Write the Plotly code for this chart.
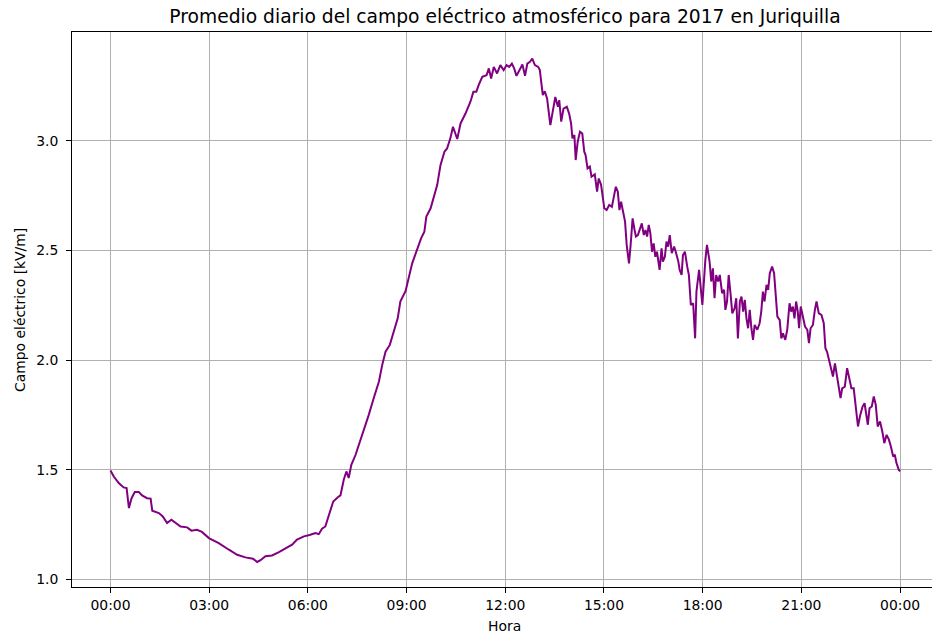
import plotly.graph_objects as go

# Hour of day (decimal hours) and mean atmospheric electric field [kV/m]
hora = [
    0.00, 0.10, 0.25, 0.40, 0.49, 0.56, 0.64, 0.74, 0.86, 0.96, 1.11, 1.22, 1.27, 1.47, 1.59, 1.72,
    1.85, 1.98, 2.13, 2.33, 2.46, 2.63, 2.78, 2.99, 3.29, 3.60, 3.85, 4.10, 4.33, 4.46, 4.56, 4.71,
    4.91, 5.12, 5.37, 5.52, 5.67, 5.88, 6.05, 6.23, 6.33, 6.43, 6.53, 6.64, 6.77, 6.91, 6.99, 7.09,
    7.17, 7.24, 7.32, 7.45, 7.55, 7.65, 7.75, 7.85, 8.00, 8.16, 8.26, 8.36, 8.49, 8.61, 8.73, 8.81,
    8.97, 9.17, 9.32, 9.44, 9.54, 9.60, 9.73, 9.83, 9.93, 10.03, 10.15, 10.23, 10.33, 10.41, 10.54,
    10.64, 10.79, 10.94, 11.03, 11.12, 11.19, 11.30, 11.43, 11.50, 11.57, 11.65, 11.75, 11.85, 11.95,
    12.04, 12.12, 12.20, 12.27, 12.34, 12.42, 12.52, 12.60, 12.67, 12.75, 12.82, 12.90, 13.00, 13.05,
    13.10, 13.14, 13.20, 13.27, 13.37, 13.44, 13.52, 13.60, 13.64, 13.70, 13.77, 13.87, 13.94, 14.00,
    14.04, 14.10, 14.14, 14.20, 14.27, 14.34, 14.40, 14.44, 14.50, 14.57, 14.62, 14.72, 14.79, 14.84,
    14.91, 15.01, 15.08, 15.16, 15.24, 15.29, 15.36, 15.42, 15.47, 15.52, 15.59, 15.64, 15.69, 15.76,
    15.81, 15.87, 15.93, 15.97, 16.03, 16.10, 16.15, 16.21, 16.26, 16.31, 16.36, 16.41, 16.46, 16.51,
    16.56, 16.61, 16.69, 16.75, 16.79, 16.85, 16.90, 16.95, 17.00, 17.06, 17.13, 17.18, 17.26, 17.30,
    17.36, 17.40, 17.46, 17.53, 17.58, 17.64, 17.71, 17.77, 17.81, 17.89, 17.94, 17.99, 18.08, 18.13,
    18.21, 18.26, 18.31, 18.36, 18.41, 18.47, 18.52, 18.59, 18.65, 18.69, 18.74, 18.79, 18.85, 18.90,
    18.97, 19.02, 19.07, 19.13, 19.18, 19.23, 19.28, 19.33, 19.38, 19.43, 19.48, 19.53, 19.58, 19.66,
    19.73, 19.78, 19.83, 19.88, 19.94, 19.99, 20.04, 20.11, 20.17, 20.21, 20.27, 20.34, 20.39, 20.44,
    20.51, 20.57, 20.64, 20.69, 20.74, 20.79, 20.84, 20.89, 20.93, 20.98, 21.03, 21.11, 21.18, 21.23,
    21.28, 21.35, 21.41, 21.46, 21.53, 21.61, 21.68, 21.73, 21.78, 21.83, 21.91, 21.96, 22.02, 22.07,
    22.12, 22.19, 22.24, 22.32, 22.39, 22.44, 22.52, 22.59, 22.66, 22.72, 22.79, 22.86, 22.92, 22.97,
    23.02, 23.07, 23.14, 23.20, 23.26, 23.32, 23.39, 23.46, 23.52, 23.59, 23.66, 23.72, 23.79, 23.84,
    23.89, 23.96, 24.00,
]

campo = [
    1.496, 1.469, 1.439, 1.419, 1.416, 1.325, 1.370, 1.398, 1.398, 1.383, 1.370, 1.368, 1.313, 1.302, 1.287, 1.257,
    1.272, 1.257, 1.241, 1.237, 1.222, 1.226, 1.216, 1.188, 1.165, 1.135, 1.112, 1.100, 1.094, 1.079, 1.087, 1.105,
    1.109, 1.124, 1.143, 1.158, 1.181, 1.196, 1.202, 1.211, 1.206, 1.231, 1.241, 1.295, 1.355, 1.374, 1.383, 1.454,
    1.492, 1.462, 1.522, 1.568, 1.614, 1.659, 1.697, 1.750, 1.826, 1.902, 1.978, 2.038, 2.069, 2.130, 2.190, 2.267,
    2.315, 2.441, 2.502, 2.555, 2.585, 2.654, 2.692, 2.745, 2.798, 2.889, 2.950, 2.965, 3.011, 3.064, 3.008,
    3.079, 3.124, 3.178, 3.223, 3.223, 3.254, 3.292, 3.299, 3.330, 3.284, 3.337, 3.307, 3.345, 3.322,
    3.345, 3.337, 3.352, 3.330, 3.296, 3.322, 3.348, 3.296, 3.352, 3.360, 3.375, 3.345, 3.337, 3.322,
    3.254, 3.208, 3.226, 3.193, 3.071, 3.124, 3.200, 3.155, 3.185, 3.087, 3.147, 3.155, 3.124, 3.079,
    3.011, 3.026, 2.912, 2.995, 3.041, 3.033, 2.950, 2.935, 2.874, 2.882, 2.836, 2.847, 2.768, 2.828,
    2.800, 2.692, 2.684, 2.707, 2.699, 2.737, 2.790, 2.768, 2.684, 2.722, 2.661, 2.631, 2.525, 2.441,
    2.525, 2.646, 2.593, 2.563, 2.570, 2.608, 2.623, 2.570, 2.593, 2.563, 2.616, 2.578, 2.494, 2.532,
    2.471, 2.494, 2.411, 2.509, 2.449, 2.471, 2.540, 2.517, 2.570, 2.487, 2.517, 2.494, 2.449, 2.411,
    2.388, 2.479, 2.494, 2.426, 2.388, 2.251, 2.259, 2.099, 2.312, 2.411, 2.335, 2.251, 2.455, 2.525,
    2.449, 2.358, 2.418, 2.282, 2.388, 2.358, 2.388, 2.305, 2.320, 2.229, 2.267, 2.388, 2.297, 2.213,
    2.236, 2.282, 2.099, 2.267, 2.289, 2.221, 2.274, 2.190, 2.145, 2.229, 2.145, 2.092, 2.160, 2.138,
    2.168, 2.221, 2.312, 2.267, 2.343, 2.320, 2.396, 2.426, 2.396, 2.297, 2.198, 2.183, 2.099, 2.122,
    2.092, 2.138, 2.259, 2.221, 2.244, 2.190, 2.267, 2.221, 2.145, 2.244, 2.206, 2.153, 2.138, 2.077,
    2.145, 2.160, 2.229, 2.267, 2.213, 2.206, 2.168, 2.054, 2.038, 2.008, 1.955, 1.925, 1.985, 1.932,
    1.902, 1.826, 1.871, 1.879, 1.963, 1.932, 1.871, 1.871, 1.780, 1.697, 1.750, 1.788, 1.803, 1.743,
    1.705, 1.780, 1.788, 1.834, 1.796, 1.697, 1.720, 1.674, 1.621, 1.659, 1.637, 1.606, 1.560, 1.568,
    1.530, 1.500, 1.492,
]

x_tick_vals = [0, 3, 6, 9, 12, 15, 18, 21, 24]
x_tick_text = ["00:00", "03:00", "06:00", "09:00", "12:00", "15:00", "18:00", "21:00", "00:00"]
y_tick_vals = [1.0, 1.5, 2.0, 2.5, 3.0]
y_tick_text = ["1.0", "1.5", "2.0", "2.5", "3.0"]

FONT = "DejaVu Sans"
W, H = 932, 640
ML, MR, MT, MB = 72, 0, 32, 53
PW, PH = W - ML - MR, H - MT - MB

fig = go.Figure()
fig.add_trace(go.Scatter(
    x=hora, y=campo, mode="lines",
    line=dict(color="#800080", width=2),
    showlegend=False, hoverinfo="x+y",
))

fig.update_layout(
    width=W, height=H,
    margin=dict(l=ML, r=MR, t=MT, b=MB, autoexpand=False),
    paper_bgcolor="white", plot_bgcolor="white",
    font=dict(family=FONT, size=13.9, color="black"),
    title=dict(
        text="Promedio diario del campo eléctrico atmosférico para 2017 en Juriquilla",
        x=(505 - ML) / PW, xanchor="center", xref="paper",
        y=1 - 16 / H, yanchor="middle", yref="container",
        font=dict(family=FONT, size=18.7, color="black"),
    ),
    xaxis=dict(
        range=[-1.17, 24.97],
        tickmode="array", tickvals=x_tick_vals, ticktext=x_tick_text,
        showgrid=True, gridcolor="#b0b0b0", gridwidth=1,
        zeroline=False,
        showline=True, linecolor="black", linewidth=1, mirror=True,
        ticks="outside", ticklen=5, tickwidth=1, tickcolor="black",
        tickfont=dict(family=FONT, size=13.9, color="black"),
        automargin=False,
    ),
    yaxis=dict(
        range=[0.965, 3.496],
        tickmode="array", tickvals=y_tick_vals, ticktext=y_tick_text,
        showgrid=True, gridcolor="#b0b0b0", gridwidth=1,
        zeroline=False,
        showline=True, linecolor="black", linewidth=1, mirror=False,
        ticks="outside", ticklen=5, tickwidth=1, tickcolor="black",
        ticklabelstandoff=5,
        tickfont=dict(family=FONT, size=13.9, color="black"),
        automargin=False,
    ),
    annotations=[
        dict(text="Hora", xref="paper", yref="paper",
             x=(505 - ML) / PW, y=(MT + PH - 626) / PH,
             xanchor="center", yanchor="middle", showarrow=False,
             font=dict(family=FONT, size=13.9, color="black")),
        dict(text="Campo eléctrico [kV/m]", xref="paper", yref="paper",
             x=(20 - ML) / PW, y=(MT + PH - 310) / PH, textangle=-90,
             xanchor="center", yanchor="middle", showarrow=False,
             font=dict(family=FONT, size=13.9, color="black")),
    ],
)

fig.write_html(
    "out.html",
    config={"displayModeBar": False},
    post_script="document.body.style.margin='0';document.body.style.overflow='hidden';",
)
